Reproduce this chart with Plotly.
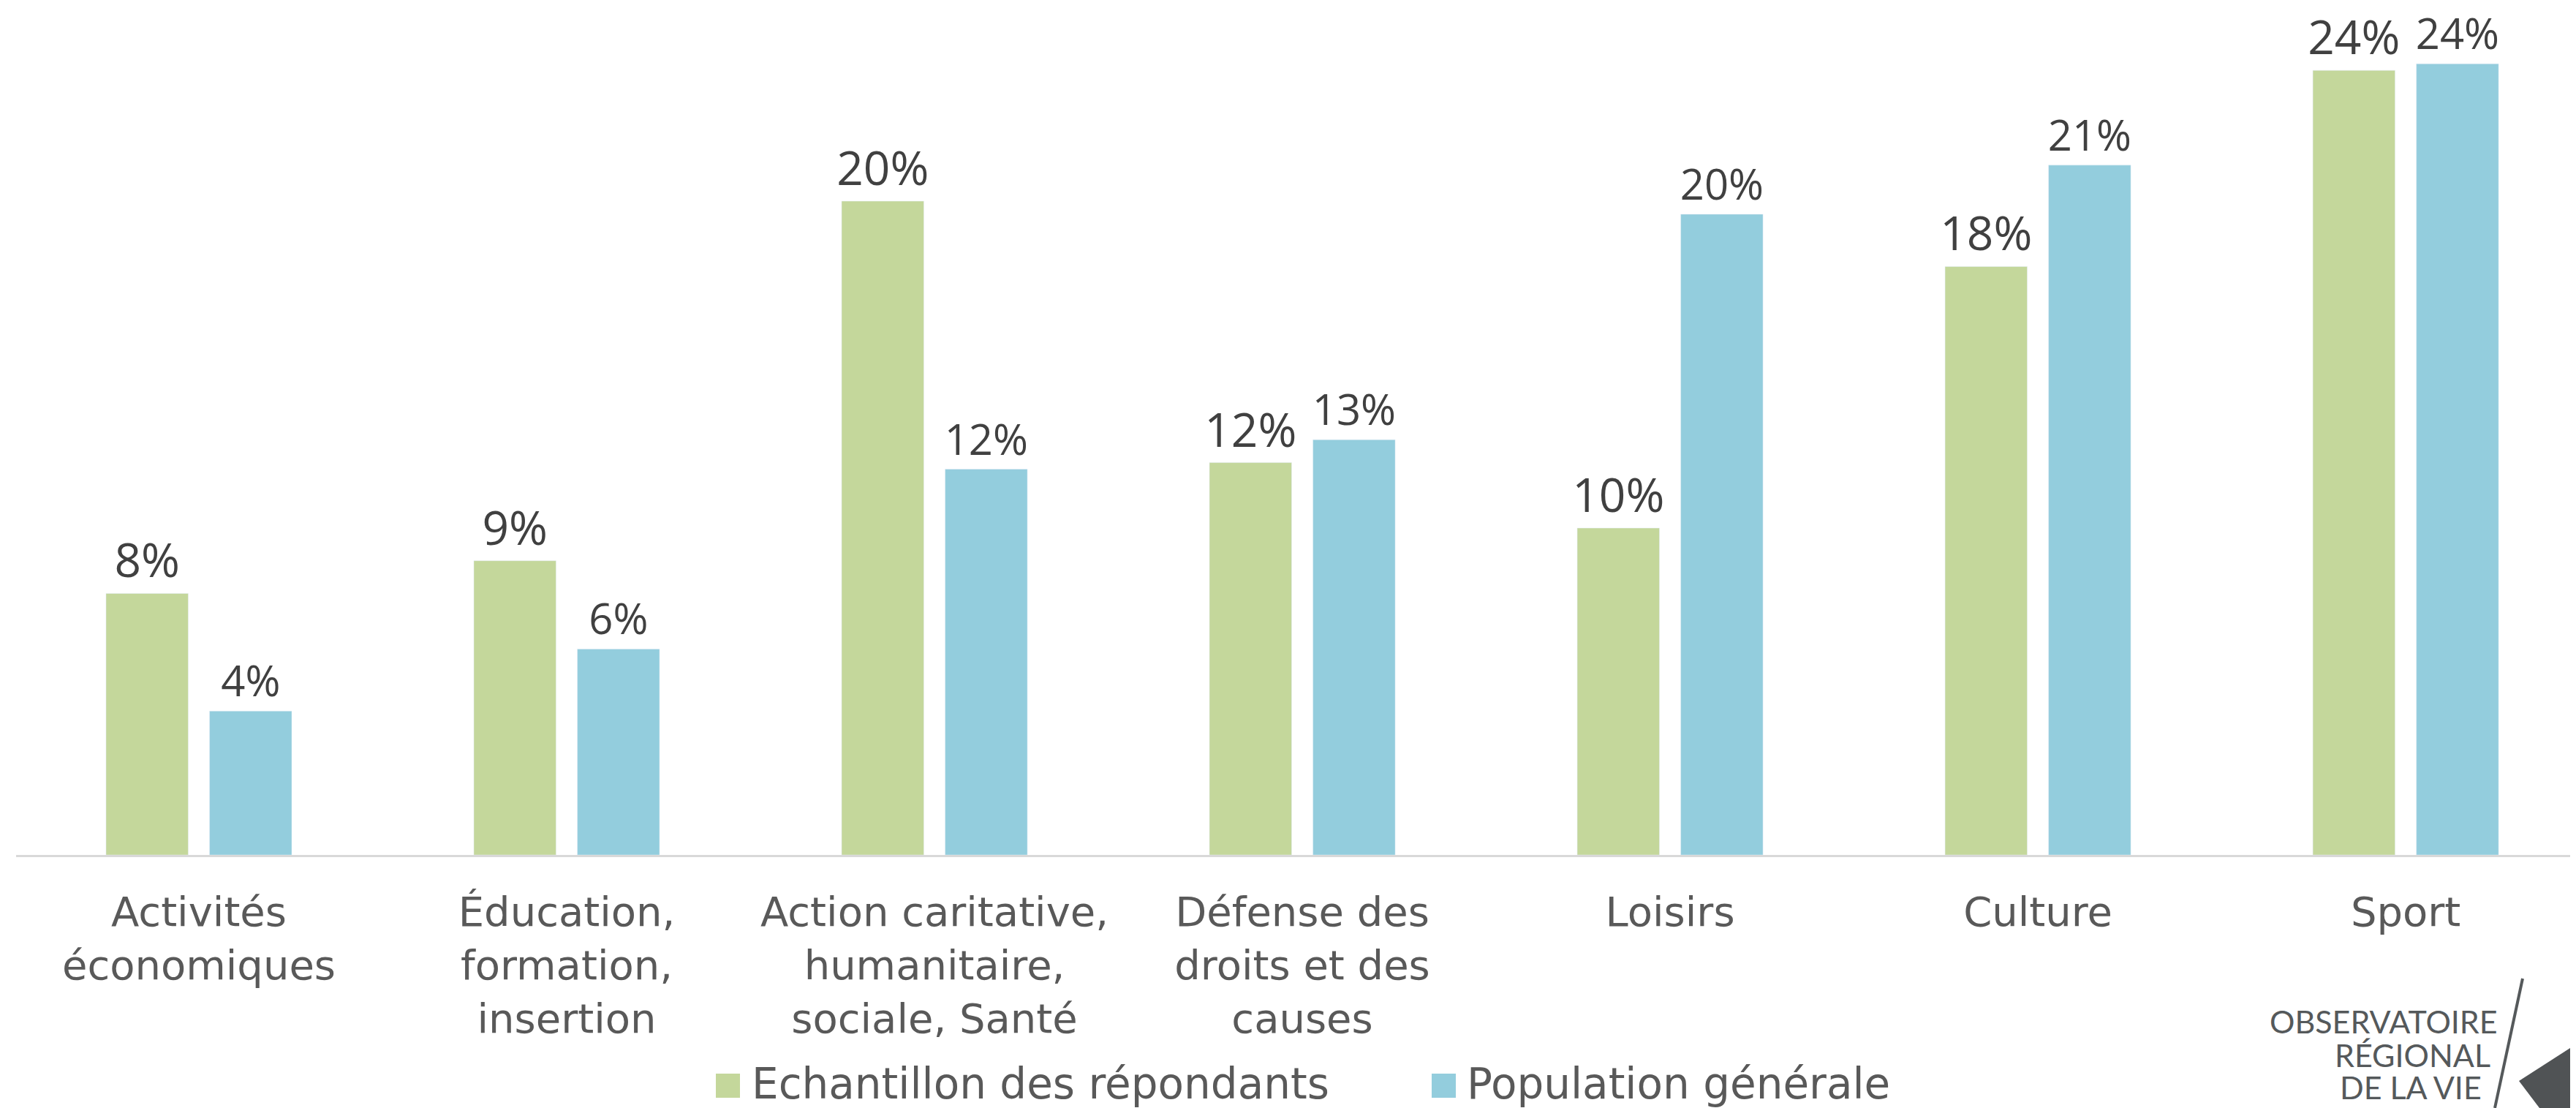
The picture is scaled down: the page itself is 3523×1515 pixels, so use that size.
import plotly.graph_objects as go

# page is rendered with the default 8px body margin, so the figure is 8px smaller
OFF = 8
W, H = 3523 - OFF, 1515 - OFF
L, B = 22 - OFF, 346  # plot area: left edge, bottom margin

categories = [
    "Activités<br>économiques",
    "Éducation,<br>formation,<br>insertion",
    "Action caritative,<br>humanitaire,<br>sociale, Santé",
    "Défense des<br>droits et des<br>causes",
    "Loisirs",
    "Culture",
    "Sport",
]
echantillon = [8.0, 9.0, 20.0, 12.0, 10.0, 18.0, 24.0]
population = [4.4, 6.3, 11.8, 12.7, 19.6, 21.1, 24.2]
series_names = ["Echantillon des répondants", "Population générale"]

GREEN = "#C4D79B"
BLUE = "#93CDDD"
TEXT = "#595959"
VALUE_TEXT = "#404040"
LOGO = "#55595b"
FONT = "DejaVu Sans"
VALUE_FONT = "Open Sans"


def px(x):
    # page pixel -> paper x
    return (x - OFF - L) / (W - L)


def py(y):
    # page pixel -> paper y
    return (H - B - (y - OFF)) / (H - B)


fig = go.Figure()
fig.add_trace(go.Bar(
    x=categories, y=echantillon, name=series_names[0], marker_color=GREEN,
    texttemplate="%{y:.0f}%", textposition="outside", cliponaxis=False,
    constraintext="none", textfont=dict(size=64, color=VALUE_TEXT, family=VALUE_FONT),
    showlegend=False,
))
fig.add_trace(go.Bar(
    x=categories, y=population, name=series_names[1], marker_color=BLUE,
    texttemplate="%{y:.0f}%", textposition="outside", cliponaxis=False,
    constraintext="none", textfont=dict(size=58, color=VALUE_TEXT, family=VALUE_FONT),
    showlegend=False,
))

# legend drawn by hand so the swatches can match the text size
shapes = []
annotations = []
for name, color, sq_x, txt_x in [(series_names[0], GREEN, 979, 1026),
                                 (series_names[1], BLUE, 1958, 2004)]:
    shapes.append(dict(type="rect", xref="paper", yref="paper",
                       x0=px(sq_x), x1=px(sq_x + 33), y0=py(1501), y1=py(1468),
                       fillcolor=color, line=dict(width=0)))
    annotations.append(dict(text=name, xref="paper", yref="paper",
                            x=px(txt_x), y=py(1482), xanchor="left", yanchor="middle",
                            showarrow=False, font=dict(size=58, color=TEXT, family=FONT)))

# logo
for line, right, yc in [("OBSERVATOIRE", 3418, 1396), ("RÉGIONAL", 3408, 1442),
                        ("DE LA VIE", 3396, 1486)]:
    annotations.append(dict(text=line, xref="paper", yref="paper",
                            x=px(right), y=py(yc), xanchor="right", yanchor="middle",
                            showarrow=False, font=dict(size=43, color=LOGO, family="Lato")))
shapes.append(dict(type="line", xref="paper", yref="paper",
                   x0=px(3450), y0=py(1338), x1=px(3412), y1=py(1515),
                   line=dict(color=LOGO, width=4)))
tri = [(3445, 1478), (3523, 1428), (3523, 1515), (3473, 1515)]
path = "M " + " L ".join(f"{px(a):.5f},{py(b):.5f}" for a, b in tri) + " Z"
shapes.append(dict(type="path", xref="paper", yref="paper", path=path,
                   fillcolor="#505355", line=dict(width=0)))

fig.update_layout(
    width=W, height=H,
    paper_bgcolor="white", plot_bgcolor="white",
    margin=dict(l=L, r=0, t=0, b=B),
    barmode="group", bargap=0.437, bargroupgap=0.206,
    font=dict(family=FONT, color=TEXT),
    xaxis=dict(range=[-0.497, 6.463], showline=True, linecolor="#D9D9D9", linewidth=3,
               showgrid=False, ticks="", tickfont=dict(size=56, color=TEXT, family=FONT),
               ticklabelstandoff=27),
    yaxis=dict(range=[0, (H - B) / 44.7], visible=False),
    shapes=shapes,
    annotations=annotations,
)

fig.write_html("out.html")
